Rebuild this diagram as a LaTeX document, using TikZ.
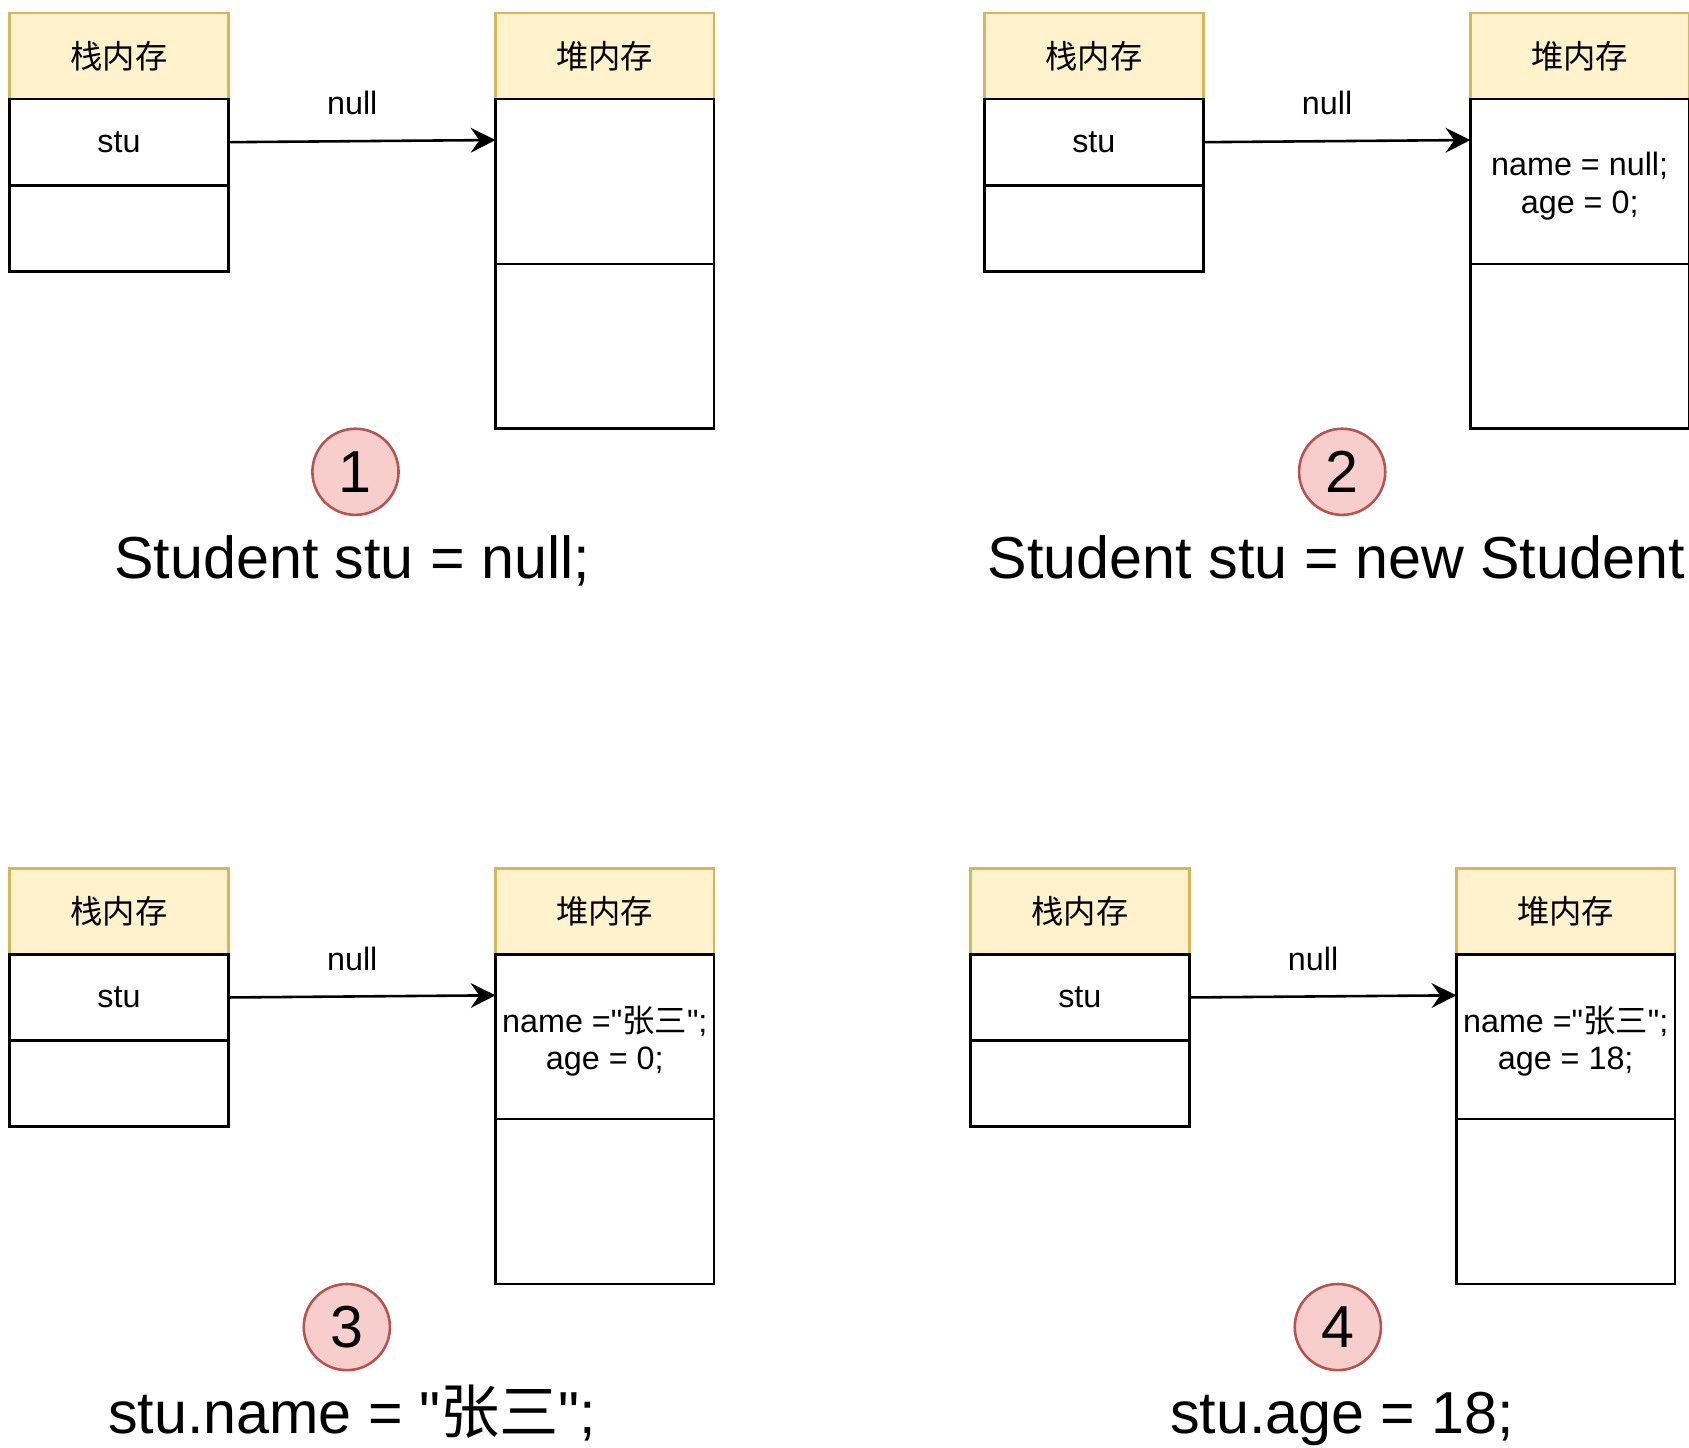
\documentclass[tikz,border=0pt]{standalone}
\usepackage{fontspec}
\setmainfont{Liberation Sans}[Ligatures=TeXOff]
\newfontfamily\cjk{Noto Sans CJK SC}
\usetikzlibrary{arrows.meta,positioning}
\definecolor{hdrfill}{HTML}{FFF2CC}
\definecolor{hdrline}{HTML}{D6B656}
\definecolor{badgefill}{HTML}{F8CECC}
\definecolor{badgeline}{HTML}{B85450}

\begin{document}
\begin{tikzpicture}[x=1pt, y=-1pt,
  hdr/.style={rectangle, draw=hdrline, fill=hdrfill, line width=2.4pt, minimum width=203pt, minimum height=80pt,
    outer sep=0pt, inner sep=0pt, font=\fontsize{30}{36}\selectfont\cjk},
  cell/.style={rectangle, draw, line width=2.4pt, minimum width=203pt, minimum height=#1, outer sep=0pt, inner sep=0pt,
    align=center, font=\fontsize{30}{36}\selectfont},
  cell/.default=80pt,
  lbl/.style={font=\fontsize{30}{35}\selectfont, inner sep=0pt, align=center},
  badge/.style={circle, draw=badgeline, fill=badgefill, line width=2.4pt, minimum size=80pt, inner sep=0pt,
    font=\fontsize{55}{66}\selectfont},
  code/.style={anchor=base, inner sep=0pt, font=\fontsize{55}{66}\selectfont},
  arr/.style={-{Stealth[length=23pt, width=23pt, inset=8pt]}, line width=2.4pt}
]
  \useasboundingbox (0,0) rectangle (1568,1344);

  % 1: Student stu = null;
  \begin{scope}
    \node[hdr] (s1h) at (110.5,52) {栈内存};
    \node[cell, below=0pt of s1h] (s1a) {stu};
    \node[cell, below=0pt of s1a] (s1b) {};
    \node[hdr] (h1h) at (561.5,52) {堆内存};
    \node[cell=153pt, below=0pt of h1h] (h1a) {};
    \node[cell=153pt, below=0pt of h1a] (h1b) {};
    \coordinate (t1) at ([yshift=-38pt]h1a.north west);
    \draw[arr] (s1a.east) -- (t1);
    \node[lbl] (n1) at (327,96) {null};
    \node[badge] (b1) at (330,438) {1};
    \node[code] (c1) at (327,537) {Student stu = null;};
  \end{scope}

  % 2: Student stu = new Student
  \begin{scope}[shift={(905,0)}]
    \node[hdr] (s2h) at (110.5,52) {栈内存};
    \node[cell, below=0pt of s2h] (s2a) {stu};
    \node[cell, below=0pt of s2a] (s2b) {};
    \node[hdr] (h2h) at (561.5,52) {堆内存};
    \node[cell=153pt, below=0pt of h2h] (h2a) {};
    \node[cell=153pt, below=0pt of h2a] (h2b) {};
    \node[lbl] (v2) at ([yshift=-4pt]h2a.center) {name = null;\\age = 0;};
    \coordinate (t2) at ([yshift=-38pt]h2a.north west);
    \draw[arr] (s2a.east) -- (t2);
    \node[lbl] (n2) at (327,96) {null};
    \node[badge] (b2) at (341,438) {2};
    \node[code, anchor=base west] (c2) at (12,537) {Student stu = new Student};
  \end{scope}

  % 3: stu.name = "张三";
  \begin{scope}[shift={(0,794)}]
    \node[hdr] (s3h) at (110.5,52) {栈内存};
    \node[cell, below=0pt of s3h] (s3a) {stu};
    \node[cell, below=0pt of s3a] (s3b) {};
    \node[hdr] (h3h) at (561.5,52) {堆内存};
    \node[cell=153pt, below=0pt of h3h] (h3a) {};
    \node[cell=153pt, below=0pt of h3a] (h3b) {};
    \node[lbl] (v3) at ([yshift=-4pt]h3a.center) {name ="{\cjk 张三}";\\age = 0;};
    \coordinate (t3) at ([yshift=-38pt]h3a.north west);
    \draw[arr] (s3a.east) -- (t3);
    \node[lbl] (n3) at (327,96) {null};
    \node[badge] (b3) at (322,438) {3};
    \node[code] (c3) at (327,537) {stu.name = "{\cjk 张三}";};
  \end{scope}

  % 4: stu.age = 18;
  \begin{scope}[shift={(892,794)}]
    \node[hdr] (s4h) at (110.5,52) {栈内存};
    \node[cell, below=0pt of s4h] (s4a) {stu};
    \node[cell, below=0pt of s4a] (s4b) {};
    \node[hdr] (h4h) at (561.5,52) {堆内存};
    \node[cell=153pt, below=0pt of h4h] (h4a) {};
    \node[cell=153pt, below=0pt of h4a] (h4b) {};
    \node[lbl] (v4) at ([yshift=-4pt]h4a.center) {name ="{\cjk 张三}";\\age = 18;};
    \coordinate (t4) at ([yshift=-38pt]h4a.north west);
    \draw[arr] (s4a.east) -- (t4);
    \node[lbl] (n4) at (327,96) {null};
    \node[badge] (b4) at (350,438) {4};
    \node[code] (c4) at (354,537) {stu.age = 18;};
  \end{scope}
\end{tikzpicture}
\end{document}
